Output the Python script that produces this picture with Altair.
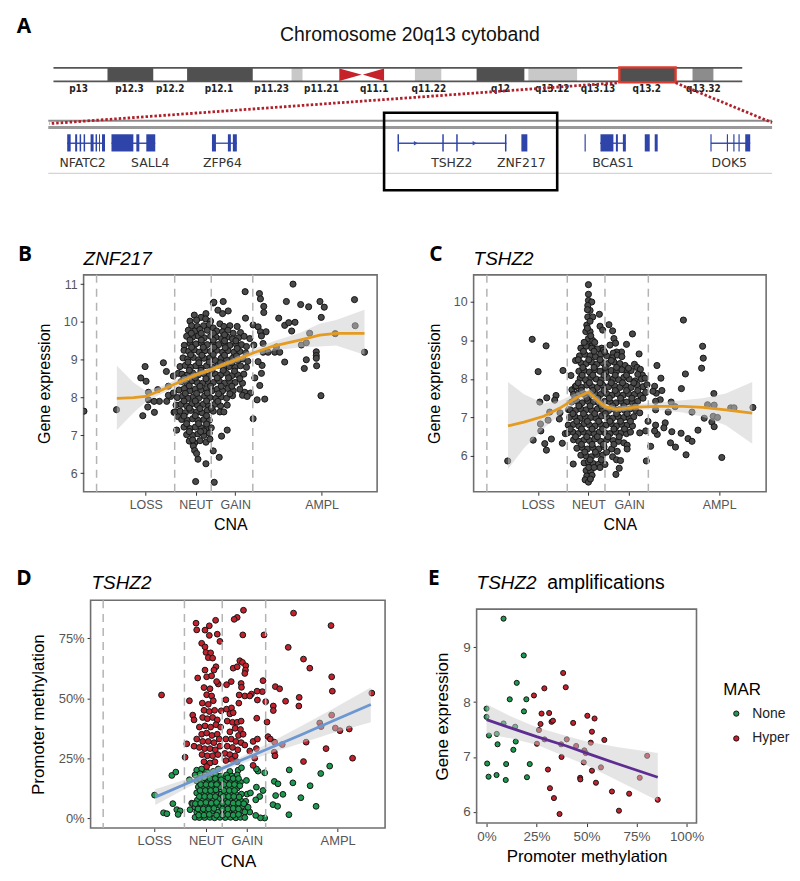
import altair as alt
import pandas as pd

FONT = "Liberation Sans"

# ---------- Panel A (schematic position along the figure) ----------
band_start = [107, 187, 292, 416, 478, 530, 621.5, 695]
band_end = [153, 253, 303, 442.5, 526, 579, 678, 716]
band_fill = ["#505050", "#505050", "#c8c8c8", "#c8c8c8", "#505050", "#c8c8c8", "#505050", "#8c8c8c"]
band_names = ["p13", "p12.3", "p12.2", "p12.1", "p11.23", "p11.21", "q11.1", "q11.22", "q12", "q13.12", "q13.13", "q13.2", "q13.32"]
band_name_x = [78, 129, 170, 219, 272, 322, 375, 430, 502, 554, 600, 649, 706]
gene_names = ["NFATC2", "SALL4", "ZFP64", "TSHZ2", "ZNF217", "BCAS1", "DOK5"]
gene_name_x = [82, 150, 222.5, 453, 523, 615, 732]
exon_start = [66.5, 74.5, 79, 83, 90, 95, 98.5, 101.5, 111, 136, 146, 212, 228, 233, 398.5, 443.5, 457.5, 506.5, 523, 586.5, 602.5, 618, 625, 647, 657, 713, 729.5, 736, 741.2, 748]
exon_end = [70, 76.5, 80.5, 84.5, 93, 96.5, 99.5, 104.5, 133, 139, 155, 216, 231, 237, 400, 445, 459, 508, 529, 587.7, 615.5, 620, 628, 652, 660, 714.2, 730.7, 737.2, 742.4, 753]
intron_start = [66.5, 111, 212, 399, 602, 713.5]
intron_end = [104.5, 155, 237, 508, 628, 753]
arrow_x = [417, 476]

# ---------- Panels B / C / D / E : values ----------
B_points = [(251,7.64),(349,7.68),(422,8.52),(435,8.82),(438,8.43),(490,8.92),(499,8.69),(520,8.57),(535,8.64),(428,7.52),(443,7.75),(463,7.61),(445,8.14),(473,8.21),(505,8.3),(445,7.94),(478,7.9),(462,7.9),(500,7.9),(512,8.03),(505,8.06),(520,8.12),(522,7.61),(530,7.14),(533,7.5),
(587,5.78),(643,5.76),(618,6.25),(594,6.37),(658,6.42),(640,6.59),(665,6.98),(682,7.14),
(640,10.5),(642,10.52),(670,10.54),(654,10.31),(668,10.22),(685,10.29),(736,10.8),(779,10.75),(782,10.61),(792,10.41),(792,10.25),(737,10.1),(837,10.1),(880,11.0),(860,10.54),(903,10.46),(927,10.4),(961,10.54),(974,10.39),(1065,10.59),(965,10.12),(1067,9.9),(1095,9.2),(760,9.92),(775,9.87),(855,9.91),(867,9.98),(886,9.99),(876,9.76),(782,9.74),(799,9.74),(785,9.63),(905,9.39),(920,9.45),(930,9.7),(1007,9.69),(790,9.43),(762,9.39),(790,9.2),(805,9.2),(825,9.2),(840,9.2),(830,9.34),(855,8.94),(920,9.0),(914,8.77),(950,9.21),(950,9.11),(950,9.04),(951,8.84),(964,8.05),(760,7.44),(772,7.94),(795,7.96),(765,8.52),(780,8.32),(785,8.64),(787,8.85),(775,8.95),(750,9.56),
(583,10.18),(603,10.12),(618,10.22),(590,10.05),(570,10.02),(617,10.08),(632,10.02),(575,9.9),(592,9.88),(611,9.9),(628,9.93),(640,9.84),(660,9.95),(672,9.88),(690,9.9),(712,9.88),(565,9.78),(584,9.76),(600,9.8),(622,9.78),(650,9.76),(668,9.74),(684,9.78),(700,9.7),(722,9.72),
(560,9.62),(578,9.6),(595,9.63),(613,9.58),(632,9.62),(648,9.6),(665,9.56),(682,9.6),(698,9.55),(716,9.58),(733,9.62),(553,9.38),(570,9.44),(588,9.42),(604,9.45),(622,9.4),(640,9.43),(656,9.4),(674,9.42),(690,9.38),(708,9.42),(725,9.4),(740,9.35),
(552,9.25),(566,9.22),(583,9.26),(598,9.2),(615,9.24),(632,9.22),(650,9.25),(668,9.2),(684,9.24),(702,9.2),(720,9.22),(738,9.18),(549,9.05),(563,9.02),(580,9.06),(596,9.0),(612,9.04),(630,9.05),(646,8.98),(664,9.04),(680,9.0),(698,9.04),(714,8.98),(730,9.02),(744,8.96),
(540,8.82),(556,8.85),(572,8.8),(588,8.84),(604,8.78),(620,8.84),(638,8.8),(654,8.85),(672,8.78),(688,8.82),(706,8.8),(722,8.84),(740,8.8),(546,8.62),(562,8.6),(578,8.65),(595,8.6),(612,8.63),(628,8.58),(646,8.62),(662,8.6),(680,8.64),(696,8.58),(714,8.6),(732,8.62),
(543,8.42),(560,8.38),(576,8.44),(592,8.4),(608,8.38),(625,8.42),(640,8.4),(658,8.44),(674,8.38),(690,8.42),(706,8.4),(728,8.38),(537,8.2),(553,8.24),(570,8.18),(586,8.22),(603,8.2),(620,8.24),(636,8.18),(652,8.22),(668,8.18),(684,8.24),(700,8.18),(720,8.22),(735,8.14),(752,8.12),
(532,8.0),(548,8.04),(564,7.98),(580,8.02),(596,7.98),(614,8.04),(630,8.0),(648,7.98),(664,8.02),(680,7.98),(698,8.05),(728,8.06),(742,8.03),(528,7.8),(543,7.82),(560,7.78),(576,7.84),(592,7.8),(610,7.82),(626,7.78),(644,7.82),(662,7.78),(682,7.8),
(525,7.62),(540,7.64),(556,7.6),(572,7.66),(590,7.62),(606,7.6),(622,7.66),(640,7.64),(660,7.62),(672,7.62),(545,7.42),(562,7.4),(578,7.44),(594,7.4),(612,7.42),(628,7.4),(552,7.22),(570,7.18),(586,7.22),(604,7.2),(622,7.18),(634,7.2),
(560,7.02),(578,7.0),(594,7.04),(612,7.0),(628,7.06),(612,7.12),(568,6.85),(584,6.8),(600,6.86),(618,6.82),(630,6.9),(580,6.72),(584,6.6),(590,6.52),(578,6.88),
(574,9.7),(604,9.7),(640,9.7),(674,9.66),(570,9.52),(604,9.52),(640,9.52),(674,9.5),(708,9.5),(575,9.33),(610,9.33),(642,9.33),(676,9.32),(712,9.3),(572,9.13),(606,9.12),(640,9.14),(674,9.12),(710,9.1),(564,8.94),(597,8.92),(628,8.94),(662,8.92),(696,8.92),(568,8.72),(603,8.72),(636,8.72),(670,8.72),(704,8.7),(552,8.52),(586,8.52),(618,8.5),(652,8.52),(686,8.52),(720,8.5),(568,8.31),(600,8.3),(632,8.3),(664,8.3),(696,8.3),(556,8.11),(590,8.11),(622,8.12),(656,8.1),(690,8.1),(552,7.91),(586,7.91),(620,7.91),(654,7.9),(568,7.72),(600,7.71),(634,7.72),(552,7.51),(586,7.52),(620,7.52),(560,7.31),(596,7.31),(620,7.3),(568,7.1),(602,7.1)]
B_fit_x = [350, 400, 437, 480, 530, 587, 634, 700, 760, 820, 900, 960, 1010, 1095]
B_fit_y = [7.98, 8.0, 8.03, 8.18, 8.38, 8.6, 8.74, 8.97, 9.18, 9.36, 9.52, 9.65, 9.7, 9.7]
B_fit_lo = [7.14, 7.6, 7.88, 8.08, 8.28, 8.54, 8.68, 8.9, 9.08, 9.24, 9.33, 9.35, 9.38, 9.13]
B_fit_hi = [8.84, 8.4, 8.18, 8.28, 8.48, 8.66, 8.8, 9.04, 9.28, 9.48, 9.71, 9.95, 10.05, 10.32]
B_ticks = [437, 587, 706, 966]
B_dashes = [289, 524, 634, 759]

C_points = [(291,5.87),(365,9.03),(407,8.86),(383,8.19),(458,8.22),(482,8.09),(388,7.4),(409,7.51),(437,7.57),(433,7.45),(418,7.14),(413,6.93),(390,6.83),(449,7.12),(447,6.96),(391,6.65),(368,6.41),(403,6.32),(423,6.44),(408,6.15),(456,6.33),(465,6.58),(475,7.2),(489,5.79),(485,7.72),(495,7.8),
(822,9.53),(880,8.85),(882,8.54),(877,8.28),(828,8.13),(816,7.75),(914,7.62),(895,7.33),(915,7.32),(885,6.98),(912,7.03),(925,7.0),(908,6.88),(915,6.76),(866,6.67),(938,5.96),(1032,7.26),(965,7.25),(975,7.25),(848,7.14),(797,7.28),(785,7.4),(776,7.14),(742,8.35),(754,8.02),(735,7.81),(740,7.63),(757,7.7),(730,7.68),(752,7.46),(738,7.42),(738,7.2),(738,6.8),(767,6.86),(763,6.73),(787,6.63),(815,6.59),(836,6.45),(848,6.38),(743,6.56),(735,6.65),(783,6.34),(798,6.23),(830,6.03),(723,6.25),(710,5.87),(715,6.9),(708,6.65),(690,6.6),
(535,10.45),(535,10.2),(535,10.04),(545,10.0),(533,9.91),(540,9.78),(533,9.61),(548,9.61),(568,9.68),(570,9.37),(578,9.27),(597,9.41),(608,9.25),(612,9.05),(617,8.93),(600,8.88),(650,8.9),(668,9.17),(688,8.65),(635,8.7),(620,8.7),(610,8.67),(530,9.4),(527,9.23),(540,9.23),(535,9.05),(548,9.0),(530,8.9),(515,8.8),(545,8.85),(575,8.8),
(512,8.8),(528,8.85),(545,8.8),(562,8.78),(580,8.75),(508,8.6),(524,8.64),(540,8.6),(556,8.58),(572,8.64),(590,8.6),(608,8.55),(622,8.62),(636,8.58),(496,8.48),(512,8.42),(528,8.4),(544,8.44),(560,8.38),(578,8.42),(594,8.4),(612,8.44),(630,8.4),(646,8.35),(674,8.38),(682,8.3),(692,8.25),
(506,8.2),(522,8.22),(538,8.18),(554,8.24),(570,8.2),(588,8.18),(604,8.22),(620,8.2),(636,8.24),(652,8.18),(664,8.22),(698,8.1),(510,8.02),(526,7.98),(542,8.04),(558,8.0),(574,7.98),(592,8.04),(610,8.0),(626,7.98),(642,8.04),(658,8.0),(676,7.95),(695,8.0),(706,8.02),
(498,7.82),(514,7.78),(530,7.84),(546,7.8),(562,7.78),(578,7.84),(596,7.8),(614,7.82),(630,7.78),(648,7.82),(664,7.78),(682,7.85),(700,7.8),(712,7.85),(490,7.6),(505,7.64),(522,7.6),(538,7.56),(555,7.62),(572,7.6),(590,7.62),(606,7.58),(622,7.62),(640,7.58),(656,7.62),(674,7.6),(692,7.58),(708,7.65),
(484,7.4),(500,7.42),(516,7.38),(534,7.42),(550,7.4),(566,7.38),(584,7.42),(600,7.4),(618,7.38),(634,7.42),(650,7.4),(668,7.38),(684,7.42),(480,7.2),(496,7.18),(512,7.22),(528,7.2),(545,7.18),(562,7.22),(578,7.2),(596,7.18),(612,7.22),(628,7.2),(645,7.18),(660,7.22),(678,7.18),(690,7.12),
(478,7.0),(494,7.02),(510,6.98),(526,7.02),(542,7.0),(558,6.98),(575,7.04),(592,7.0),(608,6.98),(625,7.02),(642,7.0),(658,6.98),(672,7.02),(474,6.8),(490,6.82),(506,6.78),(522,6.84),(538,6.8),(555,6.78),(572,6.82),(588,6.8),(604,6.84),(620,6.78),(636,6.82),(652,6.8),(668,6.78),
(472,6.6),(488,6.62),(504,6.58),(520,6.62),(536,6.6),(552,6.58),(568,6.62),(585,6.6),(600,6.58),(618,6.62),(634,6.6),(650,6.58),(662,6.62),(490,6.42),(506,6.38),(522,6.42),(538,6.4),(554,6.44),(572,6.38),(590,6.42),(610,6.4),(626,6.38),(642,6.34),(652,6.28),
(500,6.2),(516,6.22),(532,6.18),(548,6.22),(566,6.18),(582,6.24),(605,6.18),(622,6.12),(652,6.18),(512,6.02),(528,6.0),(544,5.98),(560,6.04),(578,6.02),(608,5.98),(620,5.9),(632,5.88),(522,5.82),(535,5.85),(550,5.8),(565,5.78),(585,5.78),(570,5.7),(628,5.68),(618,5.52),(528,5.62),(542,5.6),(530,5.48),(546,5.5),(525,5.38),(535,5.32),(541,5.4),
(532,9.8),(540,9.5),(532,9.32),(542,9.12),(522,8.95),(554,8.95),(520,8.72),(552,8.72),(584,8.7),(504,8.5),(536,8.5),(570,8.5),(604,8.48),(518,8.3),(552,8.3),(586,8.3),(620,8.3),(656,8.28),(516,8.1),(548,8.1),(582,8.1),(616,8.1),(650,8.1),(684,8.12),(504,7.9),(538,7.9),(570,7.9),(604,7.9),(638,7.9),(672,7.9),(514,7.7),(548,7.7),(582,7.7),(616,7.7),(650,7.7),(684,7.7),(494,7.5),(530,7.5),(564,7.5),(598,7.5),(632,7.5),(666,7.5),(700,7.5),(506,7.3),(540,7.3),(574,7.3),(608,7.3),(642,7.3),(676,7.3),(488,7.1),(520,7.1),(554,7.1),(586,7.1),(620,7.1),(652,7.1),(500,6.9),(532,6.9),(566,6.9),(600,6.9),(632,6.9),(662,6.9),(480,6.7),(514,6.7),(546,6.7),(578,6.7),(612,6.7),(644,6.7),(496,6.5),(530,6.5),(562,6.5),(594,6.5),(628,6.5),(514,6.3),(546,6.3),(580,6.3),(612,6.3),(524,6.1),(556,6.1),(590,6.1),(540,5.9),(574,5.9),(536,5.7),(552,5.7)]
C_fit_x = [292, 340, 400, 450, 500, 535, 555, 585, 620, 680, 740, 820, 880, 950, 1030]
C_fit_y = [6.78, 6.88, 7.03, 7.25, 7.52, 7.66, 7.5, 7.28, 7.21, 7.27, 7.29, 7.29, 7.26, 7.2, 7.11]
C_fit_lo = [5.66, 6.2, 6.72, 7.08, 7.4, 7.56, 7.4, 7.2, 7.14, 7.2, 7.2, 7.13, 7.02, 6.8, 6.32]
C_fit_hi = [7.92, 7.6, 7.36, 7.44, 7.64, 7.76, 7.6, 7.36, 7.28, 7.35, 7.38, 7.45, 7.5, 7.62, 7.92]
C_ticks = [382, 535, 658, 930]
C_dashes = [228, 471, 585, 716]

D_red = [(484,51.4),(568,49),(555,25.4),(560,31),(582,30),(578,43),(582,41),(588,81.4),(590,78.6),(628,80.3),(615,78.5),(628,76.3),(647,82.6),(652,76.8),(660,73.8),(605,73),(615,71.5),(618,69.2),(632,69),(625,67),(638,66.8),(731,86.8),(712,83.8),(703,83),(729,76.5),(793,76.5),(882,85.6),(995,80.4),(866,71.3),(912,66.4),(931,62.6),(997,59),(999,53),(1118,52.2),(827,54.9),(840,54),(899,50.4),(858,48.8),(898,46.8),(821,46.8),(821,44.9),(798,48.6),(802,40.1),(997,43),(961,39.7),(965,38.2),(1008,37.6),(1022,36.5),(1050,37.2),(920,31.7),(980,29),(912,23.6),(1060,25),(848,30.7),(805,34),(812,33),(825,31.7),(824,27.5),(826,26),(790,57.4),(788,52.8),(772,53),(773,49.3),(755,51.8),(735,51),(718,51.4),(750,51),(771,41.7),(717,48),(678,49.4),(680,55.7),(694,57),(655,56),(700,62.6),(712,63.2),(720,65.7),(728,65),(738,63.6),(737,61.8),(735,60.4),(724,56.2),(725,54.6),(648,63.2),(642,61.8),(615,61.8),(593,58.5),(620,59),(635,59.4),(650,57),
(612,54.5),(630,54),(620,51.5),(635,51),(607,48),(625,47.5),(640,49),(612,45),(628,44.5),(644,45),(664,44.8),(608,42),(622,41.5),(638,42),(652,41),(598,38),(615,38.5),(632,38),(648,39),(662,38),(605,35),(620,35.5),(636,34.5),(652,35),(590,33),(608,32),(625,32),(642,31.5),(658,33),(598,29.5),(614,29),(630,29),(646,28.5),(660,30),(606,26.5),(622,26),(638,26),(654,26.5),(612,23.5),(630,23),(645,23.5),(620,21.5),
(680,45.5),(695,46),(690,43.5),(700,44),(682,40.5),(698,40),(712,40),(724,40.5),(706,37.5),(722,37),(690,36),(716,34.5),(730,35),(678,33),(694,33),(708,32),(724,31.5),(735,30.5),(682,30),(698,29.5),(714,28.5),(675,27),(690,26.5),(706,26),(678,24),(695,24.5),(712,23.5),(760,32),(773,33),(750,28),(770,29),(765,25),(760,22)]
D_green = [(515,17.8),(527,19.2),(568,16),(463,9.6),(490,2.2),(500,1.8),(518,6),(530,3.5),(540,3),(534,1.5),(570,3.5),(575,6.2),(795,18.9),(775,19.6),(770,20.5),(740,15.7),(770,12.9),(790,11.5),(780,9),(768,7.6),(824,15.3),(835,14.3),(828,9.4),(850,9.9),(820,5.6),(834,4.9),(868,1.4),(869,20.1),(880,14.7),(904,8.5),(932,13.5),(964,18.6),(991,21.7),(950,4.9),(795,0),(782,0.1),(768,1.1),(750,2.5),
(590,20),(605,20.5),(620,19.5),(640,19.5),(655,20.5),(690,19.5),(715,20),(725,21),(585,18),(600,18.5),(616,18),(632,17.5),(648,18),(662,17.5),(680,18),(696,17.5),(712,18),(590,15.5),(606,15.5),(622,15),(638,15.5),(654,15),(676,15.5),(692,15),(708,15.5),(722,15),(595,13),(610,12.5),(626,13),(642,12.5),(658,13),(680,12.5),(696,13),(712,12.5),
(590,10.5),(604,10),(620,10.5),(636,10),(652,10.5),(664,10),(678,10),(692,10.5),(708,10),(725,10),(742,10),(752,10.5),(578,6),(592,7.5),(608,7.5),(624,8),(640,7.5),(656,8),(674,7.5),(690,8),(706,7.5),(722,7.5),(738,7),(585,4.5),(600,5),(616,5),(632,5),(648,5.5),(662,5),(680,5),(696,5.5),(712,5),(728,5),(745,4.5),
(590,2.5),(606,2.5),(622,2.5),(638,3),(654,2.5),(672,2.5),(688,3),(704,2.5),(720,3),(735,2.5),(585,0.3),(598,0.2),(614,0.2),(630,0.3),(644,0.1),(660,0.3),(676,0.2),(692,0.3),(708,0.1),(722,0.3),(735,0.2),
(598,16.5),(614,16.8),(630,16.5),(646,16.5),(664,16),(684,16.8),(700,16.5),(716,16.5),(602,14),(618,14),(634,14),(650,14),(672,14),(688,14),(704,14),(720,13.5),(600,11.5),(616,11.5),(632,11.5),(648,11.8),(672,11.5),(688,11.5),(704,11.5),(598,9),(614,9),(630,9),(646,9),(670,9),(686,9),(702,9),(718,8.8),(586,6),(602,6.2),(618,6.5),(634,6.2),(650,6.5),(668,6.2),(684,6.5),(700,6.2),(716,6.2),(732,6),(594,3.8),(610,3.8),(626,3.8),(642,4),(668,3.8),(684,3.8),(700,4),(716,3.8),(596,1.2),(612,1.2),(628,1.5),(650,1.2),(668,1.2),(684,1.5),(700,1.2),(716,1.5)]
D_fit_x = [465, 560, 650, 720, 800, 900, 1000, 1115]
D_fit_y = [8.75, 14.4, 19.7, 23.9, 28.6, 34.5, 40.5, 47.4]
D_fit_lo = [5.5, 12.5, 18.5, 22.5, 26.5, 31, 35.5, 40]
D_fit_hi = [12, 16.3, 21, 25.3, 30.7, 38, 45.5, 54.5]
D_ticks = [462, 618, 741, 1015]
D_dashes = [308, 553, 667, 798]

E_green = [(8.5,9.52),(18.6,8.85),(15.1,8.35),(11.6,8.05),(19.9,8.05),(0,7.88),(18.7,7.83),(0,7.73),(8.5,7.61),(14.3,7.55),(1.2,7.39),(5.1,7.42),(14.6,7.28),(5.5,7.23),(13.4,7.13),(0.3,6.88),(9.8,6.87),(21.6,6.87),(1,6.64),(5,6.67),(9.6,6.58),(20.2,6.63)]
E_red = [(38.3,8.53),(39.6,8.27),(28.9,8.25),(23.7,8.12),(27.5,7.79),(31.3,7.8),(50.4,7.75),(54,7.7),(32.5,7.64),(33.2,7.66),(27,7.6),(43.3,7.62),(26.2,7.49),(52.7,7.46),(29,7.32),(40.1,7.32),(58.9,7.31),(52.1,7.26),(25.2,7.24),(37.3,7.23),(44.8,7.2),(48.9,7.12),(49.6,7.07),(37.5,7.0),(80.3,7.02),(48.6,6.9),(57.2,6.81),(30.7,6.77),(52.7,6.75),(46.8,6.62),(46.9,6.59),(76.6,6.62),(54.7,6.53),(31.7,6.43),(62.7,6.37),(71.3,6.33),(33.7,6.25),(85.6,6.22),(66.2,6.02),(36.5,5.96)]
E_fit_x = [0, 12, 25, 40, 50, 65, 85.6]
E_fit_y = [7.68, 7.53, 7.37, 7.2, 7.07, 6.88, 6.63]
E_fit_lo = [7.42, 7.34, 7.22, 7.0, 6.85, 6.58, 6.2]
E_fit_hi = [7.96, 7.74, 7.54, 7.38, 7.28, 7.18, 7.07]
E_ticks = [0, 25, 50, 75, 100]


def pts(lst, group=None):
    d = pd.DataFrame(lst, columns=["x", "y"])
    d["group"] = group
    return d


def fit_frame(x, y, lo, hi):
    return pd.DataFrame({"x": x, "y": y, "lo": lo, "hi": hi})


ONE = pd.DataFrame({"a": [0]})
FRAME = alt.ViewBackground(stroke="#6f6f6f", strokeWidth=1.6)
GROUP_RANGE = ["#1e9a50", "#c2212e"]


def note(text, x, y, **mk):
    return (alt.Chart(ONE).mark_text(text=text, **mk).encode(x=alt.value(x), y=alt.value(y)))


def cell_box(left, top, right, bottom):
    # transparent rule that fixes the bounds of the cell in the concat layout
    return (alt.Chart(ONE).mark_rule(opacity=0, strokeWidth=0.01)
            .encode(x=alt.value(-left), x2=alt.value(right), y=alt.value(-top), y2=alt.value(bottom)))


def panel(points, fit, dashes, xscale, yscale, xaxis, yaxis, line_color, title, title_xy, w, h, size, box,
          letter, letter_xy, fill=None, legend=None, extra=None, view=FRAME):
    if fill is None:
        pt = (alt.Chart(points).mark_circle(size=size, stroke="#151515", strokeWidth=1, opacity=1, color="#4a4a4a", clip=True)
              .encode(x=alt.X("x:Q", scale=xscale, axis=xaxis), y=alt.Y("y:Q", scale=yscale, axis=yaxis)))
    else:
        pt = (alt.Chart(points).mark_circle(size=size, stroke="#151515", strokeWidth=1, opacity=1, clip=True)
              .encode(x=alt.X("x:Q", scale=xscale, axis=xaxis), y=alt.Y("y:Q", scale=yscale, axis=yaxis),
                      color=alt.Color("group:N", scale=alt.Scale(domain=["None", "Hyper"], range=GROUP_RANGE), legend=legend)))
    band = (alt.Chart(fit).mark_area(color="#cccccc", opacity=0.5)
            .encode(x=alt.X("x:Q", scale=xscale, axis=xaxis), y=alt.Y("lo:Q", scale=yscale, axis=yaxis), y2="hi:Q"))
    line = (alt.Chart(fit).mark_line(color=line_color, strokeWidth=2.8)
            .encode(x=alt.X("x:Q", scale=xscale, axis=xaxis), y=alt.Y("y:Q", scale=yscale, axis=yaxis)))
    layers = [pt, band]
    if dashes is not None:
        layers.append(alt.Chart(pd.DataFrame({"x": dashes})).mark_rule(color="#b4b4b4", strokeWidth=1.5, strokeDash=[8, 6])
                      .encode(x=alt.X("x:Q", scale=xscale, axis=xaxis)))
    layers.append(line)
    layers.append(note(title, title_xy[0], title_xy[1], font=FONT, fontStyle="italic", fontSize=19, color="black", align="left"))
    layers.append(note(letter, letter_xy[0], letter_xy[1], font="Open Sans", fontWeight="bold", fontSize=21, color="black"))
    layers.append(cell_box(*box))
    if extra:
        layers = extra + layers
    props = dict(width=w, height=h)
    if view is not None:
        props["view"] = view
    return alt.layer(*layers).properties(**props)


def cna_axis(ticks, size=16, labels=12.5):
    names = ["LOSS", "NEUT", "GAIN", "AMPL"]
    expr = "".join(f"datum.value=={t}?'{n}':" for t, n in zip(ticks, names)) + "''"
    return alt.Axis(values=ticks, labelExpr=expr, title="CNA", labelOverlap=False, titlePadding=6, titleFontSize=size, labelFontSize=labels)


def yaxis(title, values, pct=False, pad=11, size=16, **extra):
    kw = dict(values=values, title=title, titlePadding=pad, titleFontSize=size, **extra)
    if pct:
        kw["labelExpr"] = "datum.value+'%'"
    return alt.Axis(**kw)


def frame_layer(x0, x1, y0, y1, xscale, yscale, xaxis, yax):
    return (alt.Chart(pd.DataFrame({"x": [x0], "x2": [x1], "y": [y0], "y2": [y1]}))
            .mark_rect(fill=None, stroke="#6f6f6f", strokeWidth=1.6)
            .encode(x=alt.X("x:Q", scale=xscale, axis=xaxis), x2="x2:Q",
                    y=alt.Y("y:Q", scale=yscale, axis=yax), y2="y2:Q"))


# ---------- panel A layers ----------
ax = alt.X("x:Q", scale=alt.Scale(domain=[83, 792], nice=False, zero=False), axis=None)
ay = alt.Y("y:Q", scale=alt.Scale(domain=[8, 220], nice=False, zero=False, reverse=True), axis=None)


def seg(x1, x2, y1, y2):
    return pd.DataFrame({"x": x1, "x2": x2, "y": y1, "y2": y2})


def rules(df, **mk):
    return alt.Chart(df).mark_rule(**mk).encode(x=ax, x2="x2:Q", y=ay, y2="y2:Q")


def texts(labels, x, y, **mk):
    return alt.Chart(pd.DataFrame({"t": labels, "x": x, "y": y})).mark_text(**mk).encode(x=ax, y=ay, text="t:N")


bands = pd.DataFrame({"x": band_start, "x2": band_end, "y": [66] * len(band_start), "y2": [79.5] * len(band_start), "f": band_fill})
cen1 = pd.DataFrame({"x": [340, 362], "y": [66.5, 72.7], "y2": [79.2, 72.9]})
cen2 = pd.DataFrame({"x": [364, 385], "y": [72.7, 66.5], "y2": [72.9, 79.2]})
A_layers = [
    alt.Chart(bands).mark_rect().encode(x=ax, x2="x2:Q", y=ay, y2="y2:Q", color=alt.Color("f:N", scale=None)),
    rules(seg([52.7, 52.7], [745, 745], [66, 79.5], [66, 79.5]), color="#555", strokeWidth=1.6),
    alt.Chart(cen1).mark_area(color="#c5222c").encode(x=ax, y=ay, y2="y2:Q"),
    alt.Chart(cen2).mark_area(color="#c5222c").encode(x=ax, y=ay, y2="y2:Q"),
    alt.Chart(seg([621.5], [678], [65.5], [80.5])).mark_rect(fill="#505050", stroke="#e03a2e", strokeWidth=2.4).encode(x=ax, x2="x2:Q", y=ay, y2="y2:Q"),
    texts(band_names, band_name_x, [87] * len(band_names), font="'Liberation Sans Narrow','DejaVu Sans Condensed','Liberation Sans'", fontWeight="bold", fontSize=10, color="#222"),
    rules(seg([47.5], [775], [119], [119]), color="#8c8c8c", strokeWidth=2),
    rules(seg([47.5], [775], [126], [126]), color="#999999", strokeWidth=3),
    rules(seg([47.5], [775], [172], [172]), color="#d4d4d4", strokeWidth=1.2),
    rules(seg([619, 678], [48.6, 775], [81, 81], [122, 121]), color="#b0202a", strokeWidth=2.8, strokeDash=[2.5, 2]),
    rules(seg(intron_start, intron_end, [141.7] * 6, [141.7] * 6), color="#3a50b0", strokeWidth=1.4),
    alt.Chart(seg(exon_start, exon_end, [132.7] * len(exon_start), [150] * len(exon_start))).mark_rect(color="#2e44a8").encode(x=ax, x2="x2:Q", y=ay, y2="y2:Q"),
    alt.Chart(pd.DataFrame({"x": arrow_x, "y": [141.7, 141.7]})).mark_point(shape="triangle-right", filled=True, size=22, color="#3a50b0", opacity=1).encode(x=ax, y=ay),
    texts(gene_names, gene_name_x, [162] * 7, font="DejaVu Sans", fontSize=12.5, color="#333"),
    alt.Chart(seg([385], [559], [111], [189])).mark_rect(fill=None, stroke="black", strokeWidth=2.6).encode(x=ax, x2="x2:Q", y=ay, y2="y2:Q"),
    texts(["Chromosome 20q13 cytoband"], [411], [33], font=FONT, fontSize=19.5, color="#111"),
    texts(["A"], [23], [25], font="Open Sans", fontWeight="bold", fontSize=21, color="black"),
]
A = alt.layer(*A_layers).properties(width=709, height=212)

# ---------- panels B-E ----------
sB = alt.Scale(domain=[250, 1133], nice=False, zero=False)
yB = alt.Scale(domain=[5.51, 11.245], nice=False, zero=False)
B = panel(pts(B_points), fit_frame(B_fit_x, B_fit_y, B_fit_lo, B_fit_hi), B_dashes, sB, yB, cna_axis(B_ticks),
          yaxis("Gene expression", [6, 7, 8, 9, 10, 11]), "#e49b20", "ZNF217", (0, -16), 295, 218, 38,
          (75, 53, 342, 267), "B", (-59, -20))
sC = alt.Scale(domain=[188, 1072], nice=False, zero=False)
yC = alt.Scale(domain=[5.07, 10.705], nice=False, zero=False)
C = panel(pts(C_points), fit_frame(C_fit_x, C_fit_y, C_fit_lo, C_fit_hi), C_dashes, sC, yC, cna_axis(C_ticks),
          yaxis("Gene expression", [6, 7, 8, 9, 10]), "#e49b20", "TSHZ2", (0, -16), 294, 218, 38,
          (48, 53, 319, 267), "C", (-38, -20))
# D's left edge lies 7 px right of B's: its x range and y axis start 7 px in
sD = alt.Scale(domain=[270, 1158], nice=False, zero=False, range=[7, 303])
yD = alt.Scale(domain=[-4.17, 91], nice=False, zero=False)
D_pts = pd.concat([pts(D_green, "None"), pts(D_red, "Hyper")])
D_xaxis = cna_axis(D_ticks, size=17, labels=13)
D_yaxis = yaxis("Promoter methylation", [0, 25, 50, 75], pct=True, pad=11, size=17, offset=-7, labelFontSize=13)
D = panel(D_pts, fit_frame(D_fit_x, D_fit_y, D_fit_lo, D_fit_hi), D_dashes, sD, yD, D_xaxis,
          D_yaxis, "#6c97d0", "TSHZ2", (8, -17), 303, 229, 34,
          (75, 59, 342, 274), "D", (-60, -21), fill=True, view=None,
          extra=[frame_layer(270, 1158, -4.17, 91, sD, yD, D_xaxis, D_yaxis)])
# E's top edge lies 9 px below D's: its y range starts 9 px down
sE = alt.Scale(domain=[-4.97, 104.97], nice=False, zero=False)
yE = alt.Scale(domain=[5.795, 9.693], nice=False, zero=False, range=[224, 9])
E_pts = pd.concat([pts(E_green, "None"), pts(E_red, "Hyper")])
E_xaxis = alt.Axis(values=E_ticks, labelExpr="datum.value+'%'", title="Promoter methylation", titlePadding=6, labelOverlap=False, titleFontSize=17, labelFontSize=13.5)
E_yaxis = yaxis("Gene expression", [6, 7, 8, 9], size=17, labelFontSize=13.5)
E_legend = alt.Legend(orient="none", legendX=248, legendY=82, title="MAR", titleFontSize=17, titleFontWeight="normal", titleColor="black",
                      titleFont=FONT, labelFont=FONT, labelFontSize=14, labelColor="#222", symbolSize=28, symbolStrokeColor="#151515",
                      symbolStrokeWidth=1, symbolType="circle", symbolOffset=6, rowPadding=11, titlePadding=8, labelOffset=9, padding=0)
E = panel(E_pts, fit_frame(E_fit_x, E_fit_y, E_fit_lo, E_fit_hi), None, sE, yE, E_xaxis,
          E_yaxis, "#5e2d91", "TSHZ2", (0, -17), 221, 224, 26,
          (53, 59, 314, 274), "E", (-43, -21), fill=True, legend=E_legend, view=None,
          extra=[frame_layer(-4.97, 104.97, 5.795, 9.693, sE, yE, E_xaxis, E_yaxis),
                 note("amplifications", 71, -17, font=FONT, fontSize=19.5, color="black", align="left")])

row2 = alt.hconcat(B, C, spacing=0)
row3 = alt.hconcat(D, E, spacing=0).resolve_scale(color="independent").resolve_legend(color="independent")
chart = (alt.vconcat(A, row2, row3, spacing=0)
         .properties(padding=0)
         .configure(font=FONT)
         .configure_view(stroke=None)
         .configure_axis(grid=False, domain=False, tickColor="#333", tickSize=3.5, labelColor="#555", labelFontSize=12.5,
                         labelFont=FONT, titleFont=FONT, titleFontSize=16, titleFontWeight="normal", titleColor="black", labelPadding=3))

chart.save("out.html", embed_options={"renderer": "svg", "actions": False})
